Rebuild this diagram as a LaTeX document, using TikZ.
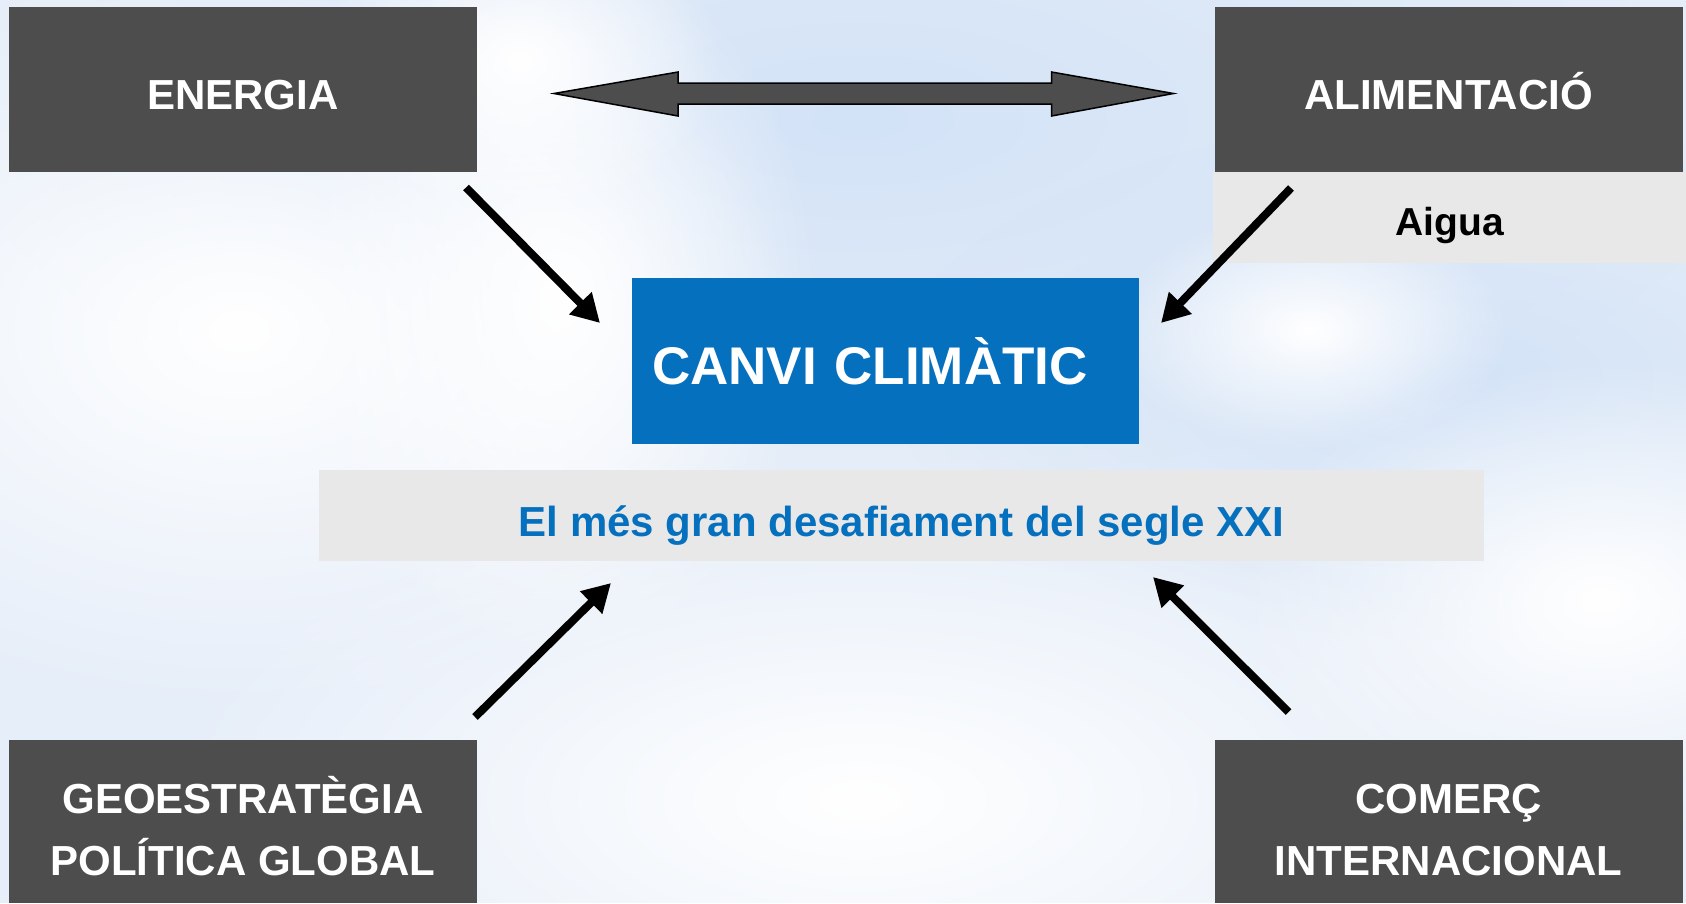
\documentclass[tikz,border=0pt]{standalone}
\usepackage{fontspec}
\setmainfont{Liberation Sans}
\usetikzlibrary{arrows.meta,fadings}
\definecolor{fosc}{HTML}{4D4D4D}
\definecolor{blau}{HTML}{0570BE}
\definecolor{gris}{HTML}{E8E8E8}
\definecolor{cel}{HTML}{E6EEF9}
\definecolor{celfosc}{HTML}{D3E3F7}
\tikzfading[name=nuvol, inner color=transparent!0, outer color=transparent!100]
\newcommand{\alt}{\rule{0pt}{47pt}}

\begin{document}
\begin{tikzpicture}[x=1pt,y=-1pt]
            \tikzstyle{tema} = [rectangle, fill=fosc, text=white, minimum width=468pt, minimum height=165pt, inner sep=0pt, outer sep=0pt, align=center, font=\fontsize{42}{62}\selectfont\bfseries]
            \tikzstyle{franja} = [rectangle, fill=gris, minimum height=91pt, inner sep=0pt, outer sep=0pt, text depth=0pt, font=\bfseries]
            \tikzstyle{fletxa} = [line width=8pt, -{Triangle[length=28pt,width=30pt]}]
            \tikzstyle{doble} = [fill=fosc, draw=black, line width=1.5pt, line join=miter]
            \tikzstyle{blanc} = [fill=white, path fading=nuvol]

            \useasboundingbox (0,0) rectangle (1686,903);
            \fill[cel] (0,0) rectangle (1686,903);
            \fill[celfosc, path fading=nuvol] (860,120) ellipse (900 and 360);
            \fill[celfosc, path fading=nuvol] (1450,380) ellipse (560 and 260);
            \fill[blanc] (240,330) ellipse (560 and 380);
            \fill[blanc] (560,300) ellipse (260 and 360);
            \fill[blanc] (520,60) ellipse (200 and 160);
            \fill[blanc] (860,800) ellipse (700 and 320);
            \fill[blanc] (1600,600) ellipse (360 and 240);
            \fill[blanc] (1310,330) ellipse (200 and 120);

            \node (energia) [tema, text height=41pt, text depth=0pt] at (243,89) {ENERGIA};
            \node (alimentacio) [tema, text height=41pt, text depth=0pt] at (1448.5,89) {ALIMENTACIÓ};
            \node (aigua) [franja, minimum width=473pt, text height=35pt, font=\fontsize{39}{47}\selectfont\bfseries] at (1449.5,217.5) {Aigua};
            \node (canvi) [rectangle, fill=blau, text=white, minimum height=166pt, text width=467pt, inner xsep=20pt, inner ysep=0pt, outer sep=0pt, align=left, font=\fontsize{53}{64}\selectfont\bfseries] at (885.5,361) {CANVI CLIMÀTIC};
            \node (lema) [franja, minimum width=1165pt, text height=41pt, text=blau, font=\fontsize{42}{50}\selectfont\bfseries] at (901.5,515.5) {El més gran desafiament del segle XXI};
            \node (geo) [tema, minimum height=163pt] at (243,821.5) {\alt GEOESTRATÈGIA\\POLÍTICA GLOBAL};
            \node (comerc) [tema, minimum height=163pt] at (1448.5,821.5) {\alt COMERÇ\\INTERNACIONAL};

            \coordinate (esq) at ([shift={(77,4.5)}]energia.east);
            \coordinate (dre) at ([shift={(-41,4.5)}]alimentacio.west);
            \draw [doble] (esq) -- ([shift={(124,-21.5)}]esq) -- ([shift={(124,-10.5)}]esq) -- ([shift={(-122,-10.5)}]dre) -- ([shift={(-122,-21.5)}]dre) -- (dre) -- ([shift={(-122,22.5)}]dre) -- ([shift={(-122,10.5)}]dre) -- ([shift={(124,10.5)}]esq) -- ([shift={(124,22.5)}]esq) -- cycle;

            \draw [fletxa] ([shift={(-11,16)}]energia.south east) -- ([shift={(-32,45)}]canvi.north west);
            \draw [fletxa] ([shift={(78,16)}]aigua.north west) -- ([shift={(22,45)}]canvi.north east);
            \draw [fletxa] ([shift={(-2,-23)}]geo.north east) -- ([shift={(292,22)}]lema.south west);
            \draw [fletxa] ([shift={(74,-28)}]comerc.north west) -- ([shift={(-331,16)}]lema.south east);
\end{tikzpicture}
\end{document}
